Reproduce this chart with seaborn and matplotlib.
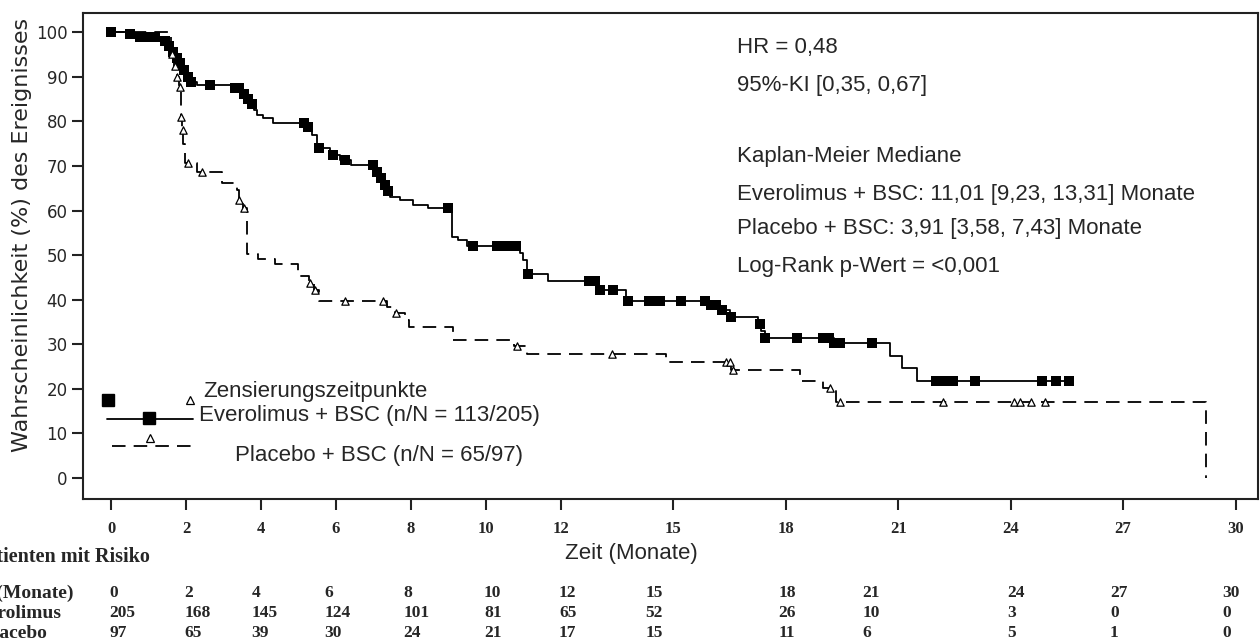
import numpy as np
import pandas as pd
import matplotlib
matplotlib.use("Agg")
import matplotlib.pyplot as plt
import matplotlib.transforms as mtransforms
import seaborn as sns


# Kaplan-Meier Stufen: Zeit (Monate) und Wahrscheinlichkeit (%) nach der Stufe
evero_time = [0, 0.4, 0.7, 1.4, 1.5, 1.6, 1.7, 1.8, 1.9, 2.0, 2.1, 2.3, 3.25, 3.5,
              3.6, 3.7, 3.8, 3.9, 4.05, 4.33, 5.22, 5.35, 5.5, 5.84, 6.1, 6.4, 7.05,
              7.15, 7.25, 7.35, 7.45, 7.7, 8.05, 8.45, 9.1, 9.25, 9.5, 10.9, 11.0,
              11.1, 11.65, 13.02, 13.75, 15.95, 16.25, 16.5, 17.25, 17.35, 17.45,
              19.3, 20.77, 21.1, 21.5, 25.6]
evero_surv = [100, 99.5, 99.0, 98.0, 96.8, 95.5, 94.2, 93.0, 91.5, 90.0, 88.8, 88.1,
              87.4, 86.2, 85.0, 83.8, 82.5, 81.4, 80.7, 79.7, 78.8, 76.9, 74.0, 72.4,
              71.3, 70.2, 68.6, 67.2, 65.8, 64.4, 63.0, 62.3, 61.2, 60.5, 54.0, 53.4,
              52.0, 50.4, 48.9, 45.7, 44.2, 42.2, 39.7, 38.8, 37.6, 36.1, 34.5, 33.0,
              31.4, 30.3, 27.3, 24.7, 21.8, 21.8]
evero_cens = [0.0, 0.5, 0.78, 0.88, 0.98, 1.08, 1.18, 1.45, 1.55, 1.65, 1.75, 1.85,
              1.95, 2.05, 2.12, 2.65, 3.3, 3.4, 3.55, 3.65, 3.75, 5.15, 5.25, 5.55,
              5.92, 6.24, 7.0, 7.1, 7.2, 7.3, 7.4, 9.0, 9.66, 10.3, 10.5, 10.65, 10.8,
              11.12, 12.75, 12.9, 13.05, 13.4, 13.8, 14.35, 14.5, 14.65, 15.2, 15.85,
              16.0, 16.15, 16.3, 16.55, 17.3, 17.45, 18.3, 19.0, 19.15, 19.3, 19.45,
              20.3, 22.0, 22.15, 22.3, 22.45, 23.05, 24.85, 25.2, 25.57]

placebo_time = [0, 1.6, 1.68, 1.75, 1.82, 1.86, 1.9, 1.93, 1.96, 2.29, 2.95, 3.37, 3.4,
                3.52, 3.62, 3.93, 4.37, 4.99, 5.28, 5.42, 5.55, 7.35, 7.58, 7.85, 7.95,
                9.12, 10.75, 11.1, 14.8, 16.55, 18.37, 18.99, 19.35, 29.2]
placebo_surv = [100, 95.0, 92.5, 90.0, 87.7, 81.0, 78.0, 75.0, 70.6, 68.6, 66.2, 64.5,
                62.3, 60.5, 50.2, 49.1, 48.0, 45.3, 43.7, 42.2, 39.7, 38.3, 37.0, 35.4,
                33.9, 30.9, 29.6, 27.8, 26.0, 24.2, 21.8, 20.2, 17.0, 0.0]
placebo_cens = [1.63, 1.7, 1.77, 1.84, 1.87, 1.91, 2.05, 2.42, 3.42, 3.55, 5.3, 5.45,
                6.24, 7.25, 7.6, 10.82, 13.36, 16.4, 16.5, 16.6, 19.17, 19.44, 22.2,
                24.1, 24.25, 24.55, 24.93]

x_ticks = [0, 2, 4, 6, 8, 10, 12, 15, 18, 21, 24, 27, 30]
y_ticks = [0, 10, 20, 30, 40, 50, 60, 70, 80, 90, 100]

# Patienten mit Risiko
risk_times = [0, 2, 4, 6, 8, 10, 12, 15, 18, 21, 24, 27, 30]
risk_evero = [205, 168, 145, 124, 101, 81, 65, 52, 26, 10, 3, 0, 0]
risk_placebo = [97, 65, 39, 30, 24, 21, 17, 15, 11, 6, 5, 1, 0]

annot_lines = ["HR = 0,48", "95%-KI [0,35, 0,67]", "Kaplan-Meier Mediane",
               "Everolimus + BSC: 11,01 [9,23, 13,31] Monate",
               "Placebo + BSC: 3,91 [3,58, 7,43] Monate",
               "Log-Rank p-Wert = <0,001"]

# Layout (Spaltenanfang der Tabelle in Monaten, Textzeilen in Achsenanteilen)
tab_col_x = [-0.05, 1.95, 3.75, 5.7, 7.8, 9.95, 11.95, 14.25, 17.8, 20.05, 23.9, 26.65, 29.65]
annot_y = [0.930, 0.850, 0.704, 0.626, 0.556, 0.479]


def km_at(times, surv, t):
    # Wert der Stufenfunktion zum Zensierungszeitpunkt
    idx = np.searchsorted(times, t, side="right") - 1
    return np.asarray(surv)[idx]


def plot_km():
    sns.set_theme(style="ticks")
    plt.rcParams["font.family"] = ["Liberation Sans", "DejaVu Sans"]

    fig = plt.figure(figsize=(12.6, 6.44), dpi=100)
    ax = fig.add_axes([83 / 1260, 1 - 499 / 644, 1175 / 1260, 486 / 644])

    df_e = pd.DataFrame({"t": evero_time, "s": evero_surv})
    df_p = pd.DataFrame({"t": placebo_time, "s": placebo_surv})
    sns.lineplot(data=df_e, x="t", y="s", drawstyle="steps-post", color="black",
                 lw=1.3, estimator=None, ax=ax)
    sns.lineplot(data=df_p, x="t", y="s", drawstyle="steps-post", color="black",
                 lw=1.3, linestyle=(0, (7.5, 4.5)), estimator=None, ax=ax)

    ce = pd.DataFrame({"t": evero_cens, "s": km_at(evero_time, evero_surv, evero_cens)})
    cp = pd.DataFrame({"t": placebo_cens, "s": km_at(placebo_time, placebo_surv, placebo_cens)})
    sns.scatterplot(data=ce, x="t", y="s", marker="s", s=55, color="black",
                    linewidth=0, ax=ax, zorder=3)
    sns.scatterplot(data=cp, x="t", y="s", marker="^", s=28, color="white",
                    edgecolor="black", linewidth=0.9, ax=ax, zorder=4)

    ax.set_xlim(-0.75, 30.6)
    ax.set_ylim(-4.7, 104.3)
    ax.set_xticks(x_ticks)
    ax.set_yticks(y_ticks)
    ax.set_xticklabels([str(v) for v in x_ticks], family="Liberation Serif",
                       weight="bold", fontsize=12)
    ax.set_yticklabels([str(v) for v in y_ticks], family="DejaVu Sans", fontsize=12)
    ax.tick_params(axis="x", length=8, width=1.5, pad=8, color="#222222")
    ax.tick_params(axis="y", length=8, width=1.5, pad=3, color="#222222")
    for sp in ax.spines.values():
        sp.set_linewidth(1.5)
        sp.set_color("#222222")
    ax.set_xlabel("")
    ax.set_ylabel("Wahrscheinlichkeit (%) des Ereignisses", family="DejaVu Sans",
                  fontsize=16)
    ax.yaxis.set_label_coords(-0.0434, 0.543)

    # Kennzahlen oben rechts
    for txt, yy in zip(annot_lines, annot_y):
        ax.text(0.5566, yy, txt, transform=ax.transAxes, fontsize=16, va="center")

    # Legende
    tr = ax.transAxes
    ax.plot([0.0213], [0.2037], marker="s", ms=8, color="black", ls="none", transform=tr)
    ax.plot([0.0911], [0.2037], marker="^", ms=5.5, mfc="white", mec="black", mew=0.9,
            ls="none", transform=tr)
    ax.plot([0.0204, 0.0936], [0.1646, 0.1646], color="black", lw=1.3, transform=tr)
    ax.plot([0.0562], [0.1667], marker="s", ms=8, color="black", ls="none", transform=tr)
    ax.plot([0.0247, 0.0936], [0.109, 0.109], color="black", lw=1.3,
            ls=(0, (7.5, 4.5)), transform=tr)
    ax.plot([0.057], [0.1255], marker="^", ms=5.5, mfc="white", mec="black", mew=0.9,
            ls="none", transform=tr)
    ax.text(0.1021, 0.2202, "Zensierungszeitpunkte", transform=tr, fontsize=16, va="center")
    ax.text(0.0987, 0.1728, "Everolimus + BSC (n/N = 113/205)", transform=tr,
            fontsize=16, va="center")
    ax.text(0.1294, 0.0885, "Placebo + BSC (n/N = 65/97)", transform=tr,
            fontsize=16, va="center")

    # Achsentitel und Tabelle der Patienten mit Risiko
    fig.text(631 / 1260, 1 - 553 / 644, "Zeit (Monate)", ha="center", va="center",
             fontsize=16)
    serif = dict(family="Liberation Serif", weight="bold", fontsize=12.5, va="center")
    label_font = dict(serif, fontsize=14.5)
    fig.text(150 / 1260, 1 - 557 / 644, "Patienten mit Risiko", ha="right", **label_font)
    rows = [("Zeit (Monate)", risk_times, 593, 73), ("Everolimus", risk_evero, 613, 62),
            ("Placebo", risk_placebo, 633, 48)]
    blend = mtransforms.blended_transform_factory(ax.transData, fig.transFigure)
    for label, vals, py, px_end in rows:
        fy = 1 - py / 644
        fig.text(px_end / 1260, fy, label, ha="right", **dict(serif, fontsize=14))
        for xx, v in zip(tab_col_x, vals):
            fig.text(xx, fy, str(v), transform=blend, ha="left", **serif)

    fig.savefig("out.png", dpi=100)
    plt.close(fig)


if __name__ == "__main__":
    plot_km()
